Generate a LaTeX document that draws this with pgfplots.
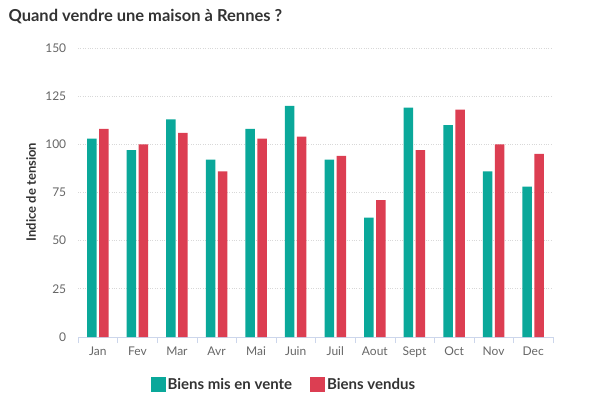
\documentclass[border=0pt]{standalone}
\usepackage{pgfplots}
\pgfplotsset{compat=1.18}
\usepackage{fontspec}
\setmainfont{Lato}
\definecolor{cgreen}{HTML}{0AA89A}
\definecolor{cred}{HTML}{DC3E52}
\definecolor{axl}{HTML}{CCD6EB}
\definecolor{grd}{HTML}{D8D8D8}
\definecolor{lab}{HTML}{666666}
\definecolor{ttl}{HTML}{333333}
\begin{document}
\begin{tikzpicture}[x=1pt,y=1pt]
\useasboundingbox (0,0) rectangle (600,400);
\node[anchor=west,text=ttl,font=\fontsize{16.5}{19}\selectfont\bfseries] at (5,383) {Quand vendre une maison à Rennes ?};
\node[rotate=90,text=ttl,font=\fontsize{13}{15}\selectfont\bfseries] at (31,208) {Indice de tension};
\begin{axis}[
  at={(78pt,63pt)}, anchor=south west,
  scale only axis, width=475pt, height=289pt,
  xmin=-0.5, xmax=11.5, ymin=0, ymax=150,
  xtick={0,...,11},
  xticklabels={Jan,Fev,Mar,Avr,Mai,Juin,Juil,Aout,Sept,Oct,Nov,Dec},
  minor xtick={-0.5,0.5,...,11.5},
  major x tick style={draw=none},
  minor x tick style={draw=axl},
  minor tick length=6pt,
  tick align=outside,
  ytick={0,25,...,150},
  y tick style={draw=none},
  ymajorgrids,
  major grid style={draw=grd, dotted, line width=0.8pt},
  axis x line*=bottom,
  axis y line*=left,
  y axis line style={draw=none},
  x axis line style={draw=axl, line width=0.8pt,-},
  ticklabel style={text=lab, font=\fontsize{12}{14}\selectfont},
  /pgf/number format/assume math mode=true,
  xticklabel style={yshift=-2pt},
  yticklabel style={xshift=-4pt},
  legend style={at={(0.146,-0.165)}, anchor=west, draw=none, fill=none,
     font=\fontsize{15}{17}\selectfont\bfseries, text=ttl,
     legend columns=2, /tikz/every even column/.append style={column sep=16pt}},
  legend image code/.code={\fill[#1] (0pt,-7pt) rectangle (15pt,8pt);},
  bar width=9.5pt,
]
\addplot[ybar, fill=cgreen, draw=none, bar shift=-6pt] coordinates {
(0,103) (1,97) (2,113) (3,92) (4,108) (5,120) (6,92) (7,62) (8,119) (9,110) (10,86) (11,78)};
\addlegendentry{Biens mis en vente}
\addplot[ybar, fill=cred, draw=none, bar shift=6pt] coordinates {
(0,108) (1,100) (2,106) (3,86) (4,103) (5,104) (6,94) (7,71) (8,97) (9,118) (10,100) (11,95)};
\addlegendentry{Biens vendus}
\end{axis}
\end{tikzpicture}
\end{document}
